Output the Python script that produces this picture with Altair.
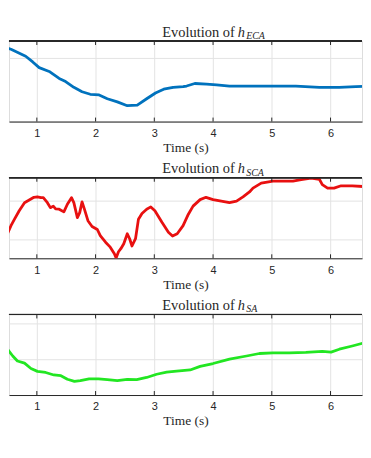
import altair as alt
import pandas as pd

# ---- data ----
t_eca = [0.39,0.56,0.81,0.93,1.04,1.21,1.38,1.49,1.63,1.77,1.91,2.06,2.20,2.37,2.54,2.71,2.87,3.02,3.16,3.32,3.49,3.55,3.69,3.89,4.06,4.28,4.85,5.41,5.81,6.15,6.43,6.65,6.95]
h_eca = [1.19,1.14,1.03,0.94,0.85,0.79,0.68,0.63,0.54,0.47,0.43,0.42,0.36,0.31,0.25,0.26,0.36,0.45,0.51,0.54,0.55,0.56,0.60,0.59,0.58,0.56,0.56,0.56,0.54,0.54,0.55,0.56,0.56]

t_sca = [0.39,0.45,0.50,0.56,0.62,0.70,0.79,0.87,0.95,1.01,1.07,1.11,1.18,1.23,1.28,1.32,1.38,1.46,1.52,1.59,1.63,1.69,1.73,1.77,1.81,1.87,1.94,2.03,2.08,2.17,2.25,2.32,2.35,2.39,2.43,
         2.48,2.54,2.58,2.62,2.68,2.73,2.79,2.87,2.94,3.01,3.13,3.24,3.31,3.39,3.49,3.58,3.66,3.78,3.88,4.00,4.14,4.28,4.40,4.51,4.62,4.68,4.82,5.02,5.36,5.50,5.67,5.81,5.86,5.95,6.06,6.18,6.37,6.67,6.95]
h_sca = [0.03,0.09,0.14,0.35,0.52,0.74,0.95,1.02,1.09,1.10,1.08,1.08,0.95,0.82,0.86,0.79,0.78,0.71,0.91,1.08,0.95,0.56,0.69,0.97,0.78,0.48,0.33,0.25,0.09,-0.08,-0.21,-0.38,-0.49,-0.33,-0.25,
         -0.12,0.14,0.01,-0.18,0.01,0.52,0.67,0.78,0.84,0.74,0.44,0.18,0.08,0.14,0.35,0.65,0.86,1.03,1.09,1.03,0.99,0.95,0.99,1.10,1.23,1.33,1.46,1.51,1.51,1.55,1.59,1.56,1.42,1.33,1.33,1.39,1.39,1.36,1.35]

t_sa = [0.39,0.45,0.50,0.59,0.67,0.79,0.90,1.01,1.15,1.29,1.41,1.52,1.64,1.74,1.89,2.05,2.20,2.37,2.54,2.70,2.87,3.04,3.21,3.38,3.61,3.78,4.00,4.28,4.57,4.79,5.02,5.30,5.58,5.86,6.01,6.15,6.37,6.65,6.95]
h_sa = [1.60,1.37,1.28,1.09,0.95,0.89,0.74,0.66,0.63,0.56,0.54,0.44,0.38,0.40,0.45,0.45,0.43,0.40,0.44,0.43,0.49,0.58,0.64,0.67,0.70,0.80,0.88,1.00,1.09,1.16,1.18,1.18,1.19,1.22,1.20,1.28,1.37,1.49,1.62]

x_ticks = [1, 2, 3, 4, 5, 6]
titles = ["ECA", "SCA", "SA"]
colors = ["#0072bd", "#e81010", "#22e622"]
y_domains = [[0, 1.27], [-0.5, 1.6], [0, 2.25]]
y_ticks = [[0, 1], [0, 1], [0, 1, 2]]

W = 355
H = 81
X_DOMAIN = [0.526, 6.536]
SERIF = "Liberation Serif"
SANS = "Liberation Sans"
FRAME = "#262626"

tick_df = pd.DataFrame({"t": x_ticks})


def panel(t, h, sub, color, ydom, yt):
    df = pd.DataFrame({"t": t, "h": h})
    xs = alt.Scale(domain=X_DOMAIN, nice=False, zero=False)
    ys = alt.Scale(domain=ydom, nice=False, zero=False)
    line = alt.Chart(df).mark_line(color=color, strokeWidth=2.8, clip=True,
                                   strokeJoin="round", strokeCap="round").encode(
        x=alt.X("t:Q", scale=xs, axis=alt.Axis(
            values=x_ticks, format="d", grid=True, gridColor="#e3e3e3", domain=True,
            domainColor=FRAME, ticks=False, tickSize=0, labelFont=SANS,
            labelFontSize=11, labelColor=FRAME, labelPadding=6,
            title="Time (s)", titleFont=SERIF, titleFontSize=13.5,
            titleFontWeight="normal", titleColor=FRAME, titlePadding=2)),
        y=alt.Y("h:Q", scale=ys, axis=alt.Axis(
            values=yt, grid=True, gridColor="#e3e3e3", labels=False,
            ticks=False, domain=False, title=None)),
    )
    base_t = alt.Chart(tick_df)
    bot_ticks = base_t.mark_rule(color=FRAME, strokeWidth=1).encode(
        x=alt.X("t:Q", scale=xs), y=alt.value(H - 4), y2=alt.value(H))
    top_ticks = base_t.mark_rule(color=FRAME, strokeWidth=1).encode(
        x=alt.X("t:Q", scale=xs), y=alt.value(0), y2=alt.value(4))
    top_line = alt.Chart(tick_df).mark_rule(color=FRAME, strokeWidth=1).encode(
        x=alt.value(0), x2=alt.value(W), y=alt.value(0))
    one = pd.DataFrame({"a": [0]})
    t1 = alt.Chart(one).mark_text(font=SERIF, fontSize=14.5, align="right",
                                  baseline="alphabetic", color=FRAME).encode(
        x=alt.value(227), y=alt.value(-4.5), text=alt.value("Evolution of"))
    t2 = alt.Chart(one).mark_text(font=SERIF, fontSize=14.5, fontStyle="italic",
                                  align="left", baseline="alphabetic", color=FRAME).encode(
        x=alt.value(230), y=alt.value(-4.5), text=alt.value("h"))
    t3 = alt.Chart(one).mark_text(font=SERIF, fontSize=10, fontStyle="italic",
                                  align="left", baseline="alphabetic", color=FRAME).encode(
        x=alt.value(238.5), y=alt.value(-2), text=alt.value(sub))
    return alt.layer(line, bot_ticks, top_ticks, top_line, t1, t2, t3).properties(
        width=W, height=H)


panels = [panel(tt, hh, s, c, yd, yt) for tt, hh, s, c, yd, yt in
          zip([t_eca, t_sca, t_sa], [h_eca, h_sca, h_sa], titles, colors, y_domains, y_ticks)]

chart = alt.vconcat(*panels, spacing=56.5, bounds="flush").properties(
    padding={"left": 0, "top": 15, "right": 0, "bottom": 5}
).configure_view(stroke=None).configure(background="white")

chart.save("out.html", embed_options={"renderer": "svg", "actions": False})
